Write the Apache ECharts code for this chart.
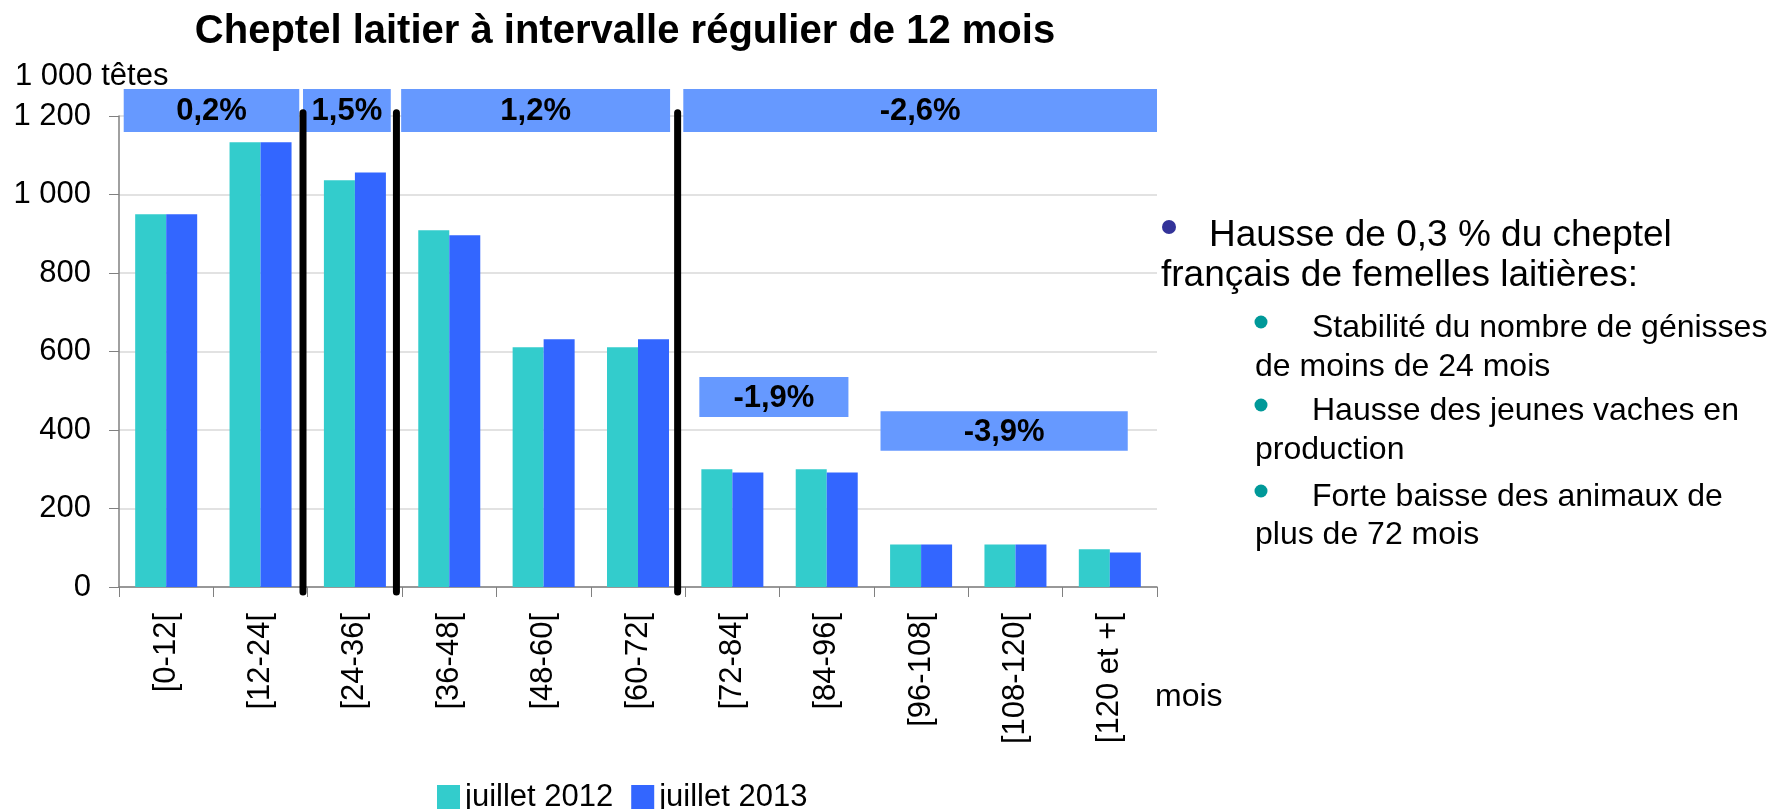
<!DOCTYPE html>
<html>
<head>
<meta charset="utf-8">
<script src="https://cdn.jsdelivr.net/npm/echarts@6/dist/echarts.min.js"></script>
<style>
  html, body { margin: 0; padding: 0; background: #fff; }
  #cheptel { width: 1771px; height: 809px; }
</style>
</head>
<body>
<div id="cheptel"></div>
<script>
// classes d'âge (mois)
const categories = ['[0-12[', '[12-24[', '[24-36[', '[36-48[', '[48-60[', '[60-72[',
  '[72-84[', '[84-96[', '[96-108[', '[108-120[', '[120 et +['];
const seriesNames = ['juillet 2012', 'juillet 2013'];
// 1 000 têtes
const juillet2012 = [950, 1133, 1036, 909, 611, 611, 300, 300, 108, 108, 96];
const juillet2013 = [950, 1133, 1056, 896, 631, 631, 292, 292, 108, 108, 88];
const yTicks = [0, 200, 400, 600, 800, 1000, 1200];

// bandeaux d'évolution : étendue en classes, étendue en valeurs
const bandLabels = ['0,2%', '1,5%', '1,2%', '-2,6%', '-1,9%', '-3,9%'];
const bandX = [[0.05, 1.91], [1.95, 2.88], [2.99, 5.84], [5.98, 11], [6.15, 7.73], [8.07, 10.69]];
const bandY = [[1159, 1269], [1159, 1269], [1159, 1269], [1159, 1269], [433, 535], [347, 448]];
// traits noirs de séparation
const separators = [1.95, 2.94, 5.92];

const notes = [
  'Hausse de 0,3 % du cheptel',
  'français de femelles laitières:',
  'Stabilité du nombre de génisses',
  'de moins de 24 mois',
  'Hausse des jeunes vaches en',
  'production',
  'Forte baisse des animaux de',
  'plus de 72 mois'
];

const FONT = '"Liberation Sans", Arial, sans-serif';
const TEAL = '#33cccc';
const BLUE = '#3366ff';

function fmt(v) {
  return String(v).replace(/\B(?=(\d{3})+(?!\d))/g, ' ');
}

function txt(text, x, y, size, opts) {
  return {
    type: 'text', silent: true,
    style: Object.assign({
      text: text, x: x, y: y,
      font: size + 'px ' + FONT,
      fill: '#000', align: 'left', verticalAlign: 'middle'
    }, opts || {})
  };
}

const graphics = [
  txt('Cheptel laitier à intervalle régulier de 12 mois', 625, 32, 40,
    { font: 'bold 40px ' + FONT, align: 'center' }),
  txt('1 000 têtes', 15, 76, 31),
  txt('mois', 1155, 697, 32),
  { type: 'circle', silent: true, shape: { cx: 1169, cy: 227, r: 7 }, style: { fill: '#333399' } },
  txt(notes[0], 1209, 236, 37),
  txt(notes[1], 1161, 276, 37)
];
// sous-puces : [ligne à puce, centre y], puis ligne de suite
[[2, 328, 367], [4, 411, 450], [6, 497, 535]].forEach(function (p) {
  graphics.push({ type: 'circle', silent: true, shape: { cx: 1261, cy: p[1] - 6, r: 6.5 }, style: { fill: '#009999' } });
  graphics.push(txt(notes[p[0]], 1312, p[1], 32));
  graphics.push(txt(notes[p[0] + 1], 1255, p[2], 32));
});

const chart = echarts.init(document.getElementById('cheptel'));

const option = {
  animation: false,
  backgroundColor: '#fff',
  textStyle: { fontFamily: FONT },
  grid: { left: 119, right: 614, top: 116, bottom: 222 },
  legend: {
    data: seriesNames,
    left: 432, top: 777,
    icon: 'rect', itemWidth: 23, itemHeight: 25, itemGap: 18,
    textStyle: { fontSize: 31, color: '#000', fontFamily: FONT }
  },
  xAxis: [
    {
      type: 'category',
      data: categories,
      axisLine: { lineStyle: { color: '#808080', width: 1.5 } },
      axisTick: { show: true, length: 10, interval: 0, lineStyle: { color: '#808080' } },
      axisLabel: { rotate: 90, margin: 26, interval: 0, fontSize: 31, color: '#000', fontFamily: FONT }
    },
    { type: 'value', min: 0, max: 11, show: false }
  ],
  yAxis: {
    type: 'value',
    min: yTicks[0], max: yTicks[yTicks.length - 1], interval: 200,
    axisLine: { show: true, lineStyle: { color: '#808080', width: 1.5 } },
    axisTick: { show: true, length: 10, lineStyle: { color: '#808080' } },
    axisLabel: { margin: 28, fontSize: 31, color: '#000', fontFamily: FONT, formatter: fmt },
    splitLine: { lineStyle: { color: '#d9d9d9', width: 1.5 } }
  },
  graphic: graphics,
  series: [
    {
      name: seriesNames[0], type: 'bar', data: juillet2012,
      barWidth: 31, barGap: '0%', itemStyle: { color: TEAL }
    },
    {
      name: seriesNames[1], type: 'bar', data: juillet2013,
      barWidth: 31, itemStyle: { color: BLUE }
    },
    {
      type: 'custom', xAxisIndex: 1, yAxisIndex: 0, silent: true, z: 5,
      data: separators.map(function (x) { return [x, -13, 1208]; }),
      encode: { x: 0, y: [1, 2] },
      renderItem: function (params, api) {
        const a = api.coord([api.value(0), api.value(2)]);
        const b = api.coord([api.value(0), api.value(1)]);
        return {
          type: 'line',
          shape: { x1: a[0], y1: a[1], x2: b[0], y2: b[1] },
          style: { stroke: '#000', lineWidth: 7, lineCap: 'round' }
        };
      }
    },
    {
      type: 'custom', xAxisIndex: 1, yAxisIndex: 0, silent: true, z: 4,
      data: bandX.map(function (x, i) { return [x[0], x[1], bandY[i][0], bandY[i][1]]; }),
      encode: { x: [0, 1], y: [2, 3] },
      renderItem: function (params, api) {
        const p0 = api.coord([api.value(0), api.value(3)]);
        const p1 = api.coord([api.value(1), api.value(2)]);
        return {
          type: 'group',
          children: [
            {
              type: 'rect',
              shape: { x: p0[0], y: p0[1], width: p1[0] - p0[0], height: p1[1] - p0[1] },
              style: { fill: '#6699ff' }
            },
            {
              type: 'text',
              style: {
                text: bandLabels[params.dataIndex],
                x: (p0[0] + p1[0]) / 2, y: (p0[1] + p1[1]) / 2 + 1,
                align: 'center', verticalAlign: 'middle',
                font: 'bold 31px ' + FONT, fill: '#000'
              }
            }
          ]
        };
      }
    }
  ]
};

chart.setOption(option);
window.addEventListener('resize', function () {
  chart.resize();
});
</script>
</body>
</html>
